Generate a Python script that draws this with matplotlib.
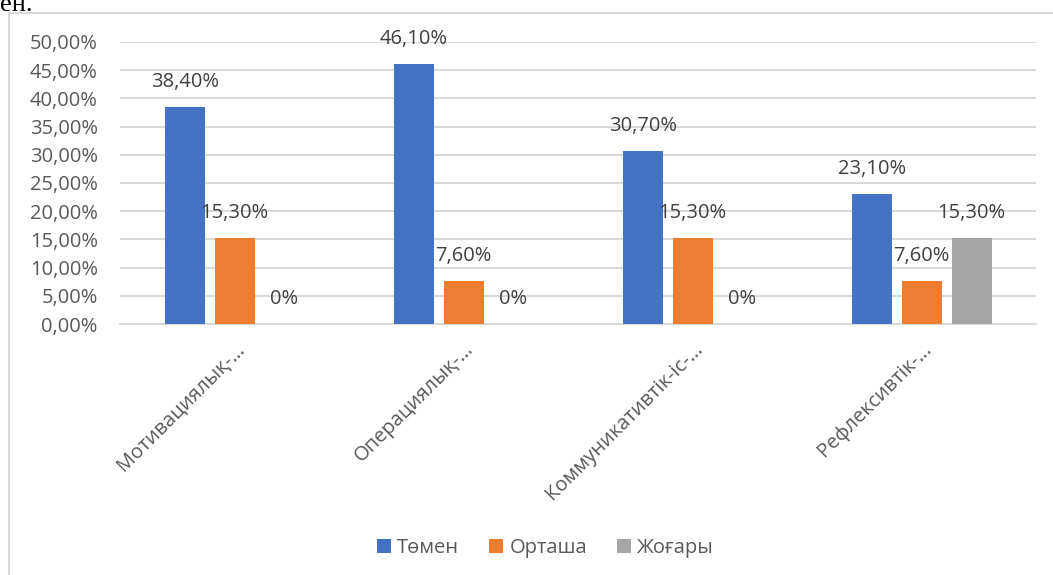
import numpy as np
import matplotlib
matplotlib.use('Agg')
import matplotlib.pyplot as plt
from matplotlib.patches import Rectangle
from matplotlib.ticker import FuncFormatter

# Деректер
categories = ['Мотивациялық-…', 'Операциялық-…', 'Коммуникативтік-іс-…', 'Рефлексивтік-…']
series_names = ['Төмен', 'Орташа', 'Жоғары']
tomen = [0.384, 0.461, 0.307, 0.231]
ortasha = [0.153, 0.076, 0.153, 0.076]
zhogary = [0.0, 0.0, 0.0, 0.153]
tomen_labels = ['38,40%', '46,10%', '30,70%', '23,10%']
ortasha_labels = ['15,30%', '7,60%', '15,30%', '7,60%']
zhogary_labels = ['0%', '0%', '0%', '15,30%']
colors = ['#4472C4', '#ED7D31', '#A5A5A5']

text_color = '#595959'
grid_color = '#D9D9D9'
font = 'Open Sans'
fs = 14.5

fig = plt.figure(figsize=(10.53, 5.75), dpi=100)
ax = fig.add_axes([0.114, 0.4365, 0.870, 0.4905])

x = np.arange(len(categories))
width = 0.175
step = 0.218
all_values = [tomen, ortasha, zhogary]
all_labels = [tomen_labels, ortasha_labels, zhogary_labels]

for i in range(3):
    pos = x + (i - 1) * step
    ax.bar(pos, all_values[i], width, color=colors[i], label=series_names[i], zorder=3)
    for px, v, lab in zip(pos, all_values[i], all_labels[i]):
        ax.annotate(lab, (px, v), xytext=(0, 25), textcoords='offset pixels',
                    ha='center', va='center', fontsize=fs, color='#404040',
                    family=font, zorder=4)

ax.set_xlim(-0.5, len(categories) - 0.5)
ax.set_ylim(0, 0.5)
ax.set_yticks(np.arange(0, 0.501, 0.05))
ax.yaxis.set_major_formatter(FuncFormatter(lambda v, p: f'{v*100:.2f}%'.replace('.', ',')))
ax.grid(axis='y', color=grid_color, linewidth=1.5, zorder=0)
ax.set_axisbelow(True)
for s in ['top', 'right', 'left']:
    ax.spines[s].set_visible(False)
ax.spines['bottom'].set_color(grid_color)
ax.spines['bottom'].set_linewidth(1.5)
ax.tick_params(axis='both', length=0, labelcolor=text_color, labelsize=fs)
ax.tick_params(axis='y', pad=16)
for t in ax.get_yticklabels():
    t.set_family(font)

ax.set_xticks(x)
ax.set_xticklabels(categories, rotation=45, ha='right', rotation_mode='anchor',
                   family=font, fontsize=fs, color=text_color)
for t in ax.get_xticklabels():
    t.set_y(-0.035)
    t.set_x(t.get_position()[0])

leg = fig.legend(loc='center', bbox_to_anchor=(0.518, 1 - 548 / 575), ncol=3,
                 frameon=False, prop={'family': font, 'size': fs},
                 handlelength=0.7, handleheight=0.7, handletextpad=0.3,
                 columnspacing=1.5)
for t in leg.get_texts():
    t.set_color(text_color)

# рамка диаграммы
fig.patches.append(Rectangle((9 / 1053, -0.1), 1.2, 1.1 - 13 / 575,
                             transform=fig.transFigure, fill=False,
                             edgecolor=grid_color, linewidth=1.5))

# текст документа сверху
fig.text(0.0, 1 - 11 / 575, 'ен.', family='Liberation Serif', fontsize=19,
         color='black', ha='left', va='baseline')

fig.savefig('out.png', dpi=100)
